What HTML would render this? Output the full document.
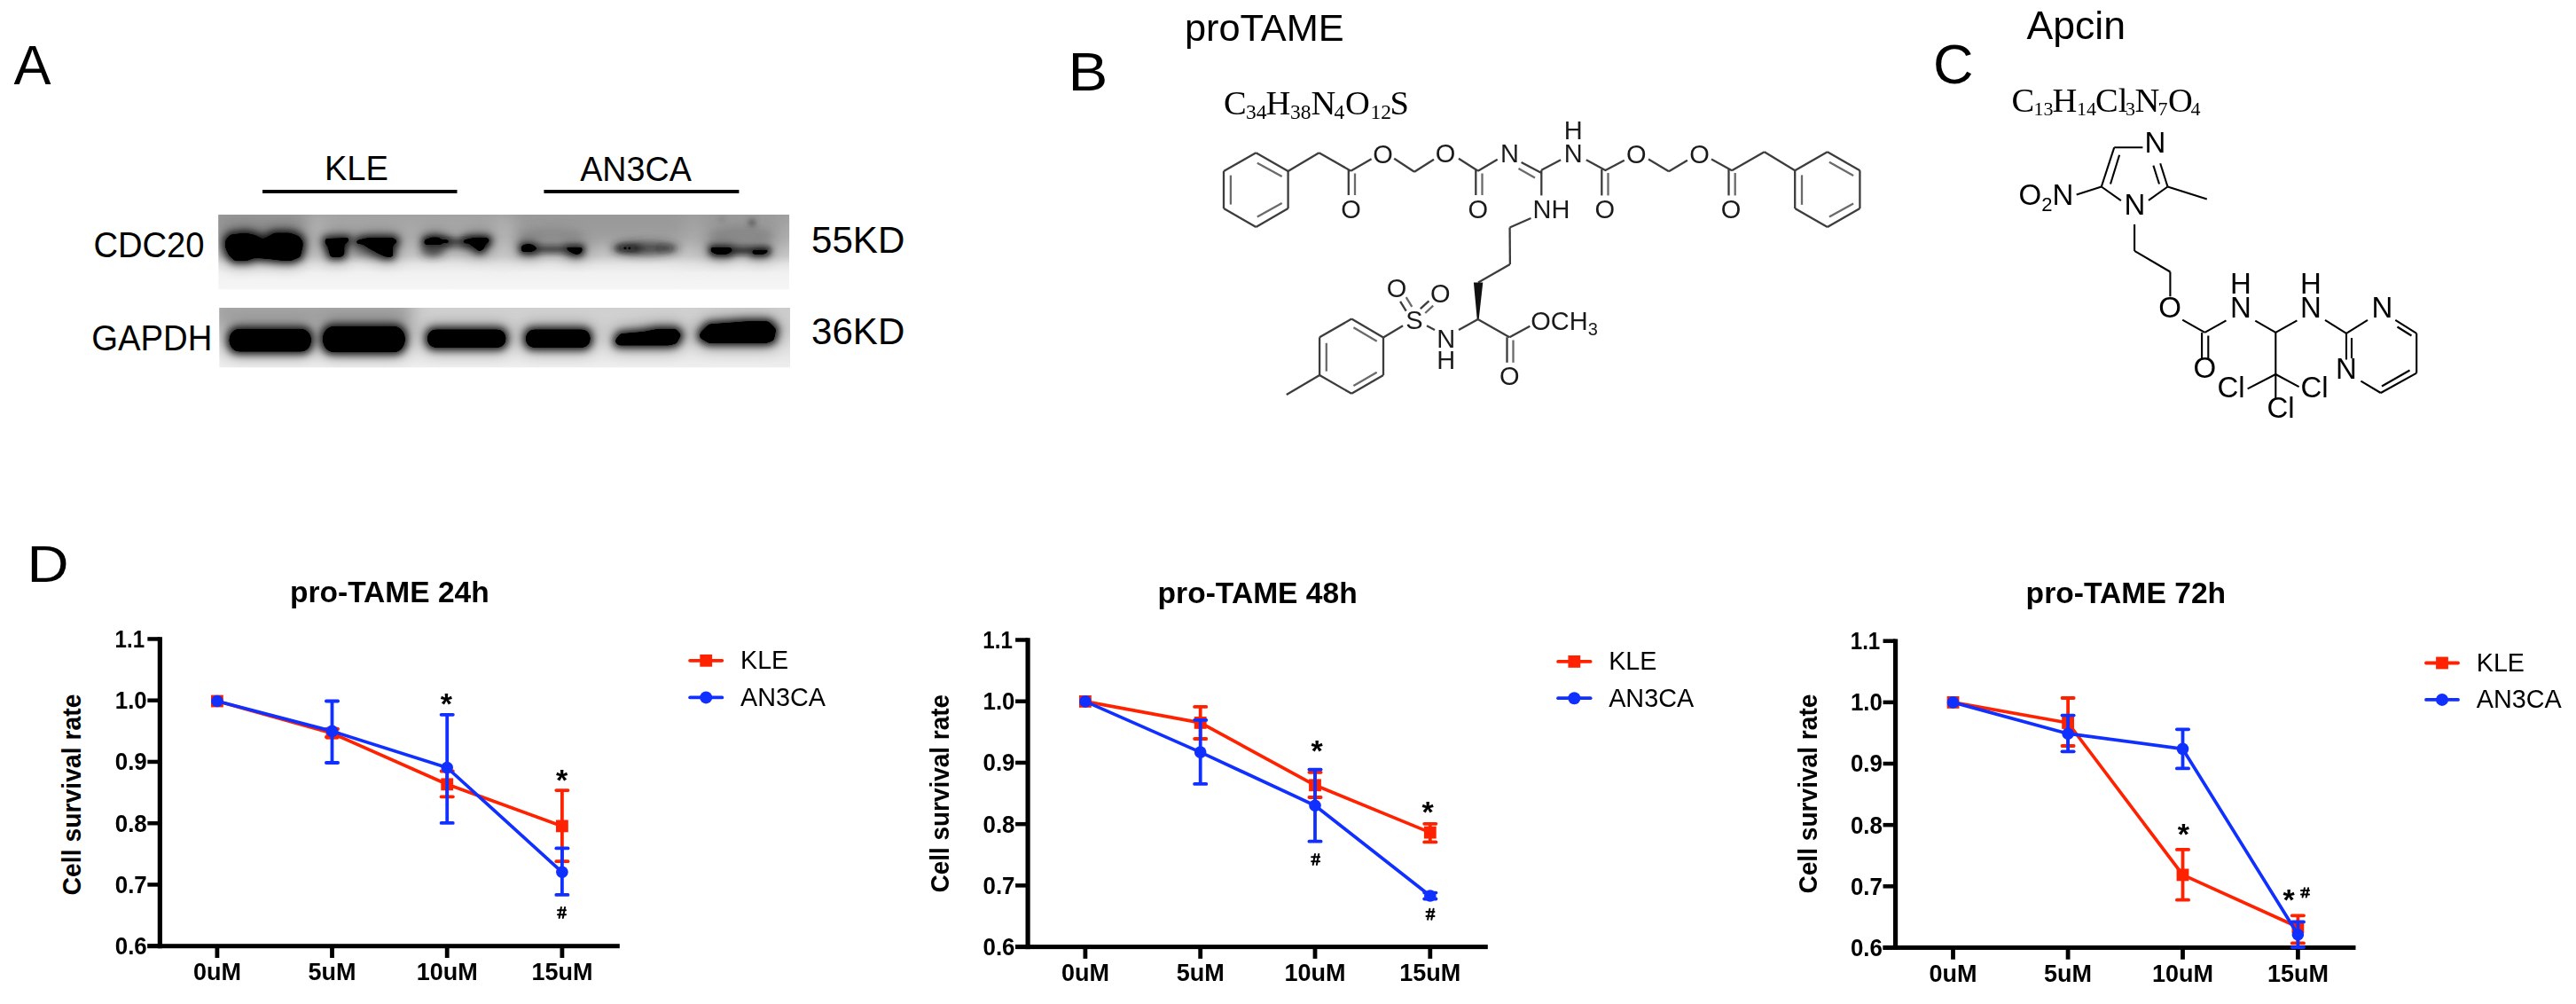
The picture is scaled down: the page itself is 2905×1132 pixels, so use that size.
<!DOCTYPE html>
<html><head><meta charset="utf-8"><title>Figure</title>
<style>html,body{margin:0;padding:0;background:#fff;width:2905px;height:1132px;overflow:hidden}svg{display:block}</style>
</head><body><svg width="2905" height="1132" viewBox="0 0 2905 1132"><text x="15.5" y="95" font-family='"Liberation Sans", sans-serif' font-size="63" font-weight="normal" text-anchor="start" fill="#000" >A</text>
<text x="1204.4" y="101.6" font-family='"Liberation Sans", sans-serif' font-size="61" font-weight="normal" text-anchor="start" fill="#000" textLength="44.8" lengthAdjust="spacingAndGlyphs" >B</text>
<text x="2180" y="94.1" font-family='"Liberation Sans", sans-serif' font-size="63" font-weight="normal" text-anchor="start" fill="#000" >C</text>
<text x="30.5" y="655.6" font-family='"Liberation Sans", sans-serif' font-size="58" font-weight="normal" text-anchor="start" fill="#000" textLength="47.1" lengthAdjust="spacingAndGlyphs" >D</text>
<text x="401.9" y="202.8" font-family='"Liberation Sans", sans-serif' font-size="39" font-weight="normal" text-anchor="middle" fill="#000" textLength="72" lengthAdjust="spacingAndGlyphs" >KLE</text>
<rect x="296" y="214" width="219.5" height="3.9" fill="#000"/>
<text x="717" y="203.8" font-family='"Liberation Sans", sans-serif' font-size="39" font-weight="normal" text-anchor="middle" fill="#000" textLength="125.5" lengthAdjust="spacingAndGlyphs" >AN3CA</text>
<rect x="613.4" y="214" width="220" height="3.9" fill="#000"/>
<text x="105.4" y="290.2" font-family='"Liberation Sans", sans-serif' font-size="40" font-weight="normal" text-anchor="start" fill="#000" textLength="125.2" lengthAdjust="spacingAndGlyphs" >CDC20</text>
<text x="103.2" y="395" font-family='"Liberation Sans", sans-serif' font-size="40" font-weight="normal" text-anchor="start" fill="#000" textLength="136.2" lengthAdjust="spacingAndGlyphs" >GAPDH</text>
<text x="915" y="285" font-family='"Liberation Sans", sans-serif' font-size="43" font-weight="normal" text-anchor="start" fill="#000" textLength="105.3" lengthAdjust="spacingAndGlyphs" >55KD</text>
<text x="915" y="387.6" font-family='"Liberation Sans", sans-serif' font-size="43" font-weight="normal" text-anchor="start" fill="#000" textLength="105.3" lengthAdjust="spacingAndGlyphs" >36KD</text>
<defs>
<clipPath id="cb1"><rect x="246.2" y="242.0" width="643.9" height="84.6"/></clipPath>
<clipPath id="cb2"><rect x="247.2" y="347.0" width="643.8" height="67.6"/></clipPath>
<filter id="hw" x="-30%" y="-200%" width="160%" height="500%"><feMorphology operator="dilate" radius="3" in="SourceAlpha"/><feGaussianBlur stdDeviation="9"/><feComponentTransfer><feFuncA type="linear" slope="0.5"/></feComponentTransfer></filter>
<filter id="hn" x="-30%" y="-200%" width="160%" height="500%"><feMorphology operator="dilate" radius="2" in="SourceAlpha"/><feGaussianBlur stdDeviation="4.5"/><feComponentTransfer><feFuncA type="linear" slope="0.9"/></feComponentTransfer></filter>
<filter id="goo" x="-20%" y="-100%" width="140%" height="300%"><feGaussianBlur in="SourceAlpha" stdDeviation="1.6"/><feComponentTransfer><feFuncA type="linear" slope="7" intercept="-3"/></feComponentTransfer><feGaussianBlur stdDeviation="0.5"/></filter>
<filter id="b10" x="-50%" y="-200%" width="200%" height="500%"><feGaussianBlur stdDeviation="10"/></filter>
<filter id="b5" x="-50%" y="-200%" width="200%" height="500%"><feGaussianBlur stdDeviation="5"/></filter>
<filter id="b3" x="-50%" y="-200%" width="200%" height="500%"><feGaussianBlur stdDeviation="3"/></filter>
<linearGradient id="gb1" x1="0" y1="0" x2="0" y2="1"><stop offset="0" stop-color="#a2a2a2"/><stop offset="0.3" stop-color="#b0b0b0"/><stop offset="0.55" stop-color="#c8c8c8"/><stop offset="0.66" stop-color="#e4e4e4"/><stop offset="0.78" stop-color="#f1f1f1"/><stop offset="1" stop-color="#f6f6f6"/></linearGradient>
<linearGradient id="gb2" x1="0" y1="0" x2="0" y2="1"><stop offset="0" stop-color="#c8c8c8"/><stop offset="0.35" stop-color="#d0d0d0"/><stop offset="0.7" stop-color="#e2e2e2"/><stop offset="1" stop-color="#efefef"/></linearGradient>
<g id="s1"><polygon points="254.0,271.0 260.0,264.4 276.9,262.4 287.8,264.9 296.8,269.4 309.7,262.4 326.7,262.4 336.6,265.9 341.6,271.9 341.6,277.8 338.6,289.8 327.6,294.3 316.7,293.8 304.7,292.3 287.8,290.8 277.8,294.3 264.9,294.3 257.9,287.8 254.0,278.8" fill="#000" /><polygon points="366.5,268.9 393.4,267.9 393.4,271.9 388.4,275.8 388.4,286.8 385.4,289.8 372.5,289.8 369.5,277.8 366.5,274.3" fill="#000" /><polygon points="401.9,270.9 415.3,267.9 443.2,267.9 448.7,271.9 443.2,276.8 443.2,289.8 435.2,289.8 426.3,285.8 415.3,279.8 409.3,275.8 401.9,274.8" fill="#000" /><polygon points="478.4,270.4 486.9,267.4 494.8,267.4 497.8,269.9 506.3,270.4 506.3,273.9 497.8,274.3 497.8,276.3 478.4,275.8" fill="#000" /><polygon points="522.7,270.4 533.7,267.9 549.6,267.9 552.6,271.4 547.6,275.8 545.6,280.8 540.6,283.8 535.7,279.8 527.7,274.3 522.7,274.8" fill="#000" /><polygon points="587.9,277.3 592.4,275.3 599.4,275.3 604.4,278.3 606.0,281.3 598.4,284.3 587.9,283.8" fill="#000" /><polygon points="637.3,278.8 656.7,278.8 656.7,283.3 653.2,286.8 648.2,286.8 641.2,283.3" fill="#000" /><polygon points="801.5,278.8 823.4,278.8 826.9,282.3 820.4,286.8 807.5,286.8 801.5,283.8" fill="#000" /><polygon points="848.3,281.8 868.2,281.8 862.2,286.8 848.3,286.8" fill="#000" /></g>
<g id="s2"><rect x="258.4" y="370.7" width="92.6" height="25.8" rx="11.6" ry="12.9" fill="#000"/><rect x="363.8" y="367.8" width="93.1" height="29.4" rx="13.2" ry="14.7" fill="#000"/><rect x="481.8" y="371.5" width="88.8" height="20.6" rx="9.3" ry="10.3" fill="#000"/><rect x="592.8" y="371.5" width="73.0" height="20.6" rx="9.3" ry="10.3" fill="#000"/><polygon points="694.1,382.9 699.5,376.2 725.4,373.9 742.3,370.8 762.0,370.8 768.2,377.5 762.9,387.3 754.8,389.6 697.7,389.6 694.1,386.4" fill="#000" /><polygon points="789.2,375.7 799.5,365.4 842.3,362.3 866.4,362.3 875.4,371.3 872.7,383.8 864.6,386.9 799.5,386.9 789.2,381.1" fill="#000" /></g>
</defs>
<g clip-path="url(#cb1)">
<rect x="246.2" y="242.0" width="643.9" height="84.6" fill="url(#gb1)"/>
<g filter="url(#b10)">
<rect x="236" y="236" width="110" height="30" fill="#8a8a8a" opacity="0.7"/>
<rect x="580" y="236" width="300" height="40" fill="#8e8e8e" opacity="0.55"/>
<rect x="354" y="245" width="8" height="50" fill="#d2d2d2" opacity="0.7"/>
<rect x="562" y="245" width="10" height="50" fill="#cccccc" opacity="0.6"/>
<rect x="777" y="245" width="10" height="50" fill="#c8c8c8" opacity="0.5"/>
</g>
<use href="#s1" filter="url(#hw)"/>
<use href="#s1" filter="url(#hn)"/>
<g filter="url(#b5)">
<ellipse cx="488" cy="282" rx="13" ry="7" fill="#303030" opacity="0.8"/>
<ellipse cx="515" cy="276" rx="30" ry="4" fill="#404040" opacity="0.6"/>
<ellipse cx="415" cy="283" rx="18" ry="6" fill="#404040" opacity="0.5"/>
<ellipse cx="728" cy="280" rx="38" ry="7.5" fill="#2a2a2a" opacity="0.75"/>
<ellipse cx="710" cy="280" rx="18" ry="6" fill="#1a1a1a" opacity="0.6"/>
<ellipse cx="622" cy="281" rx="22" ry="4" fill="#444" opacity="0.7"/>
<ellipse cx="836" cy="282" rx="14" ry="4" fill="#333" opacity="0.7"/>
<ellipse cx="622" cy="266" rx="36" ry="10" fill="#7a7a7a" opacity="0.45"/>
<ellipse cx="836" cy="266" rx="36" ry="12" fill="#707070" opacity="0.45"/>
</g>
<g filter="url(#b3)">
<ellipse cx="708" cy="280" rx="14" ry="3" fill="#151515" opacity="0.7"/>
<ellipse cx="750" cy="280" rx="10" ry="2.5" fill="#222" opacity="0.5"/>
<circle cx="848" cy="251" r="3.5" fill="#3a3a3a" opacity="0.9"/>
<circle cx="814.5" cy="247" r="3" fill="#6a6a6a" opacity="0.6"/>
</g>
<g filter="url(#b3)">
<rect x="480" y="270" width="70" height="5" fill="#1a1a1a" opacity="0.85"/>
<rect x="590" y="278.5" width="66" height="5" fill="#1a1a1a" opacity="0.8"/>
<rect x="803" y="279.5" width="64" height="6" fill="#151515" opacity="0.85"/>
</g>
<use href="#s1" filter="url(#goo)"/>
<circle cx="704.9" cy="279.8" r="1.4" fill="#000"/><circle cx="709.8" cy="279.8" r="1.4" fill="#000"/>
</g>
<g clip-path="url(#cb2)">
<rect x="247.2" y="347.0" width="643.8" height="67.6" fill="url(#gb2)"/>
<g filter="url(#b10)">
<rect x="236" y="338" width="230" height="30" fill="#8a8a8a" opacity="0.7"/>
<rect x="470" y="338" width="420" height="26" fill="#dadada" opacity="0.5"/>
</g>
<use href="#s2" filter="url(#hw)"/>
<use href="#s2" filter="url(#hn)"/>
<use href="#s2" filter="url(#goo)"/>
</g>
<g stroke-linecap="butt">
<line x1="1416.4" y1="172.2" x2="1452.6" y2="192.9" stroke="#3c3c3c" stroke-width="2.3"/>
<line x1="1452.6" y1="192.9" x2="1452.6" y2="235.1" stroke="#3c3c3c" stroke-width="2.3"/>
<line x1="1452.6" y1="235.1" x2="1416.4" y2="256.1" stroke="#3c3c3c" stroke-width="2.3"/>
<line x1="1416.4" y1="256.1" x2="1380.0" y2="235.1" stroke="#3c3c3c" stroke-width="2.3"/>
<line x1="1380.0" y1="235.1" x2="1380.0" y2="192.9" stroke="#3c3c3c" stroke-width="2.3"/>
<line x1="1380.0" y1="192.9" x2="1416.4" y2="172.2" stroke="#3c3c3c" stroke-width="2.3"/>
<line x1="1387.9" y1="197.7" x2="1387.9" y2="230.6" stroke="#6a6a6a" stroke-width="2.3"/>
<line x1="1417.8" y1="183.7" x2="1445.7" y2="199.0" stroke="#6a6a6a" stroke-width="2.3"/>
<line x1="1417.8" y1="244.6" x2="1445.7" y2="229.0" stroke="#6a6a6a" stroke-width="2.3"/>
<line x1="1452.6" y1="192.9" x2="1487.5" y2="172.2" stroke="#3c3c3c" stroke-width="2.3"/>
<line x1="1487.5" y1="172.2" x2="1523.3" y2="192.7" stroke="#3c3c3c" stroke-width="2.3"/>
<line x1="1520.8" y1="191.2" x2="1520.8" y2="220.0" stroke="#3c3c3c" stroke-width="2.3"/>
<line x1="1528.0" y1="195.5" x2="1528.0" y2="220.0" stroke="#6a6a6a" stroke-width="2.3"/>
<line x1="1523.3" y1="192.7" x2="1546.6" y2="179.3" stroke="#3c3c3c" stroke-width="2.3"/>
<line x1="1572.2" y1="178.8" x2="1595.0" y2="193.7" stroke="#3c3c3c" stroke-width="2.3"/>
<line x1="1595.0" y1="193.7" x2="1617.0" y2="179.8" stroke="#3c3c3c" stroke-width="2.3"/>
<line x1="1644.9" y1="178.8" x2="1666.8" y2="192.7" stroke="#3c3c3c" stroke-width="2.3"/>
<line x1="1664.3" y1="191.2" x2="1664.3" y2="220.0" stroke="#3c3c3c" stroke-width="2.3"/>
<line x1="1671.5" y1="195.5" x2="1671.5" y2="220.0" stroke="#6a6a6a" stroke-width="2.3"/>
<line x1="1666.8" y1="192.7" x2="1688.7" y2="179.8" stroke="#3c3c3c" stroke-width="2.3"/>
<line x1="1715.6" y1="183.0" x2="1738.3" y2="195.0" stroke="#3c3c3c" stroke-width="2.3"/>
<line x1="1712.5" y1="190.0" x2="1731.0" y2="200.5" stroke="#6a6a6a" stroke-width="2.3"/>
<line x1="1738.3" y1="191.7" x2="1760.1" y2="180.3" stroke="#3c3c3c" stroke-width="2.3"/>
<line x1="1738.3" y1="191.7" x2="1738.3" y2="220.4" stroke="#3c3c3c" stroke-width="2.3"/>
<line x1="1788.8" y1="180.3" x2="1810.9" y2="192.2" stroke="#3c3c3c" stroke-width="2.3"/>
<line x1="1806.3" y1="191.0" x2="1806.3" y2="220.4" stroke="#3c3c3c" stroke-width="2.3"/>
<line x1="1813.5" y1="195.0" x2="1813.5" y2="220.4" stroke="#6a6a6a" stroke-width="2.3"/>
<line x1="1810.0" y1="192.2" x2="1831.8" y2="180.7" stroke="#3c3c3c" stroke-width="2.3"/>
<line x1="1859.0" y1="179.6" x2="1882.0" y2="193.2" stroke="#3c3c3c" stroke-width="2.3"/>
<line x1="1882.0" y1="193.2" x2="1902.9" y2="180.7" stroke="#3c3c3c" stroke-width="2.3"/>
<line x1="1930.0" y1="179.6" x2="1953.1" y2="192.2" stroke="#3c3c3c" stroke-width="2.3"/>
<line x1="1949.5" y1="191.0" x2="1949.5" y2="220.4" stroke="#3c3c3c" stroke-width="2.3"/>
<line x1="1956.7" y1="195.0" x2="1956.7" y2="220.4" stroke="#6a6a6a" stroke-width="2.3"/>
<line x1="1953.1" y1="192.2" x2="1989.7" y2="171.2" stroke="#3c3c3c" stroke-width="2.3"/>
<line x1="1989.7" y1="171.2" x2="2024.2" y2="192.2" stroke="#3c3c3c" stroke-width="2.3"/>
<line x1="2060.8" y1="171.2" x2="2097.4" y2="192.2" stroke="#3c3c3c" stroke-width="2.3"/>
<line x1="2097.4" y1="192.2" x2="2097.4" y2="235.0" stroke="#3c3c3c" stroke-width="2.3"/>
<line x1="2097.4" y1="235.0" x2="2060.8" y2="256.0" stroke="#3c3c3c" stroke-width="2.3"/>
<line x1="2060.8" y1="256.0" x2="2024.2" y2="235.0" stroke="#3c3c3c" stroke-width="2.3"/>
<line x1="2024.2" y1="235.0" x2="2024.2" y2="192.2" stroke="#3c3c3c" stroke-width="2.3"/>
<line x1="2024.2" y1="192.2" x2="2060.8" y2="171.2" stroke="#3c3c3c" stroke-width="2.3"/>
<line x1="2032.0" y1="197.4" x2="2032.0" y2="230.9" stroke="#6a6a6a" stroke-width="2.3"/>
<line x1="2062.9" y1="182.7" x2="2090.1" y2="198.0" stroke="#6a6a6a" stroke-width="2.3"/>
<line x1="2062.9" y1="244.5" x2="2090.1" y2="229.5" stroke="#6a6a6a" stroke-width="2.3"/>
<line x1="1726.5" y1="246.0" x2="1702.6" y2="256.5" stroke="#3c3c3c" stroke-width="2.3"/>
<line x1="1702.6" y1="256.5" x2="1702.9" y2="298.1" stroke="#3c3c3c" stroke-width="2.3"/>
<line x1="1702.9" y1="298.1" x2="1667.0" y2="318.5" stroke="#3c3c3c" stroke-width="2.3"/>
<polygon points="1661.9,318.5 1672.3,318.5 1667.6,360.5 1665.8,360.5" fill="#111"/>
<line x1="1666.7" y1="360.0" x2="1645.0" y2="372.0" stroke="#3c3c3c" stroke-width="2.3"/>
<line x1="1666.7" y1="360.0" x2="1702.3" y2="380.2" stroke="#3c3c3c" stroke-width="2.3"/>
<line x1="1699.5" y1="380.2" x2="1699.5" y2="408.8" stroke="#3c3c3c" stroke-width="2.3"/>
<line x1="1706.5" y1="383.5" x2="1706.5" y2="408.8" stroke="#6a6a6a" stroke-width="2.3"/>
<line x1="1702.3" y1="380.2" x2="1725.3" y2="367.7" stroke="#3c3c3c" stroke-width="2.3"/>
<line x1="1609.0" y1="367.3" x2="1618.0" y2="372.1" stroke="#3c3c3c" stroke-width="2.3"/>
<line x1="1582.1" y1="367.3" x2="1560.0" y2="380.5" stroke="#3c3c3c" stroke-width="2.3"/>
<line x1="1579.1" y1="339.9" x2="1585.7" y2="350.6" stroke="#3c3c3c" stroke-width="2.3"/>
<line x1="1585.7" y1="335.1" x2="1592.3" y2="345.8" stroke="#6a6a6a" stroke-width="2.3"/>
<line x1="1601.8" y1="348.2" x2="1611.4" y2="339.3" stroke="#3c3c3c" stroke-width="2.3"/>
<line x1="1607.2" y1="353.0" x2="1616.2" y2="344.6" stroke="#6a6a6a" stroke-width="2.3"/>
<line x1="1524.2" y1="359.5" x2="1560.0" y2="380.5" stroke="#3c3c3c" stroke-width="2.3"/>
<line x1="1560.0" y1="380.5" x2="1560.0" y2="423.0" stroke="#3c3c3c" stroke-width="2.3"/>
<line x1="1560.0" y1="423.0" x2="1524.2" y2="443.8" stroke="#3c3c3c" stroke-width="2.3"/>
<line x1="1524.2" y1="443.8" x2="1488.1" y2="423.0" stroke="#3c3c3c" stroke-width="2.3"/>
<line x1="1488.1" y1="423.0" x2="1488.1" y2="380.3" stroke="#3c3c3c" stroke-width="2.3"/>
<line x1="1488.1" y1="380.3" x2="1524.2" y2="359.5" stroke="#3c3c3c" stroke-width="2.3"/>
<line x1="1495.8" y1="386.8" x2="1495.8" y2="418.6" stroke="#6a6a6a" stroke-width="2.3"/>
<line x1="1526.4" y1="369.3" x2="1552.7" y2="384.7" stroke="#6a6a6a" stroke-width="2.3"/>
<line x1="1526.4" y1="435.1" x2="1552.7" y2="419.7" stroke="#6a6a6a" stroke-width="2.3"/>
<line x1="1488.1" y1="423.0" x2="1450.8" y2="444.9" stroke="#3c3c3c" stroke-width="2.3"/>
</g>
<text x="1523.5" y="246.2" font-family='"Liberation Sans", sans-serif' font-size="29" text-anchor="middle" fill="#1a1a1a">O</text>
<text x="1559.6" y="183.5" font-family='"Liberation Sans", sans-serif' font-size="29" text-anchor="middle" fill="#1a1a1a">O</text>
<text x="1630.0" y="183.3" font-family='"Liberation Sans", sans-serif' font-size="29" text-anchor="middle" fill="#1a1a1a">O</text>
<text x="1666.8" y="246.2" font-family='"Liberation Sans", sans-serif' font-size="29" text-anchor="middle" fill="#1a1a1a">O</text>
<text x="1702.6" y="183.1" font-family='"Liberation Sans", sans-serif' font-size="29" text-anchor="middle" fill="#1a1a1a">N</text>
<text x="1774.2" y="157.3" font-family='"Liberation Sans", sans-serif' font-size="29" text-anchor="middle" fill="#1a1a1a">H</text>
<text x="1774.2" y="183.1" font-family='"Liberation Sans", sans-serif' font-size="29" text-anchor="middle" fill="#1a1a1a">N</text>
<text x="1809.8" y="246.0" font-family='"Liberation Sans", sans-serif' font-size="29" text-anchor="middle" fill="#1a1a1a">O</text>
<text x="1845.4" y="183.5" font-family='"Liberation Sans", sans-serif' font-size="29" text-anchor="middle" fill="#1a1a1a">O</text>
<text x="1916.5" y="183.5" font-family='"Liberation Sans", sans-serif' font-size="29" text-anchor="middle" fill="#1a1a1a">O</text>
<text x="1952.0" y="246.0" font-family='"Liberation Sans", sans-serif' font-size="29" text-anchor="middle" fill="#1a1a1a">O</text>
<text x="1575.0" y="335.3" font-family='"Liberation Sans", sans-serif' font-size="29" text-anchor="middle" fill="#1a1a1a">O</text>
<text x="1624.3" y="341.3" font-family='"Liberation Sans", sans-serif' font-size="29" text-anchor="middle" fill="#1a1a1a">O</text>
<text x="1595.0" y="371.2" font-family='"Liberation Sans", sans-serif' font-size="29" text-anchor="middle" fill="#1a1a1a">S</text>
<text x="1630.8" y="392.4" font-family='"Liberation Sans", sans-serif' font-size="29" text-anchor="middle" fill="#1a1a1a">N</text>
<text x="1630.8" y="416.3" font-family='"Liberation Sans", sans-serif' font-size="29" text-anchor="middle" fill="#1a1a1a">H</text>
<text x="1702.3" y="434.4" font-family='"Liberation Sans", sans-serif' font-size="29" text-anchor="middle" fill="#1a1a1a">O</text>
<text x="1728.6" y="245.6" font-family='"Liberation Sans", sans-serif' font-size="29" text-anchor="start" fill="#1a1a1a">NH</text>
<text x="1726.3" y="371.8" font-family='"Liberation Sans", sans-serif' font-size="29" fill="#1a1a1a">OCH<tspan font-size="20" dy="6.5">3</tspan></text>
<text font-family='"Liberation Serif", serif' font-size="38.5" fill="#000"><tspan x="1380" y="129.3">C</tspan><tspan x="1405" y="134.3" font-size="23.5">34</tspan><tspan x="1427.5" y="129.3">H</tspan><tspan x="1455" y="134.3" font-size="23.5">38</tspan><tspan x="1478.5" y="129.3">N</tspan><tspan x="1504.5" y="134.3" font-size="23.5">4</tspan><tspan x="1517" y="129.3">O</tspan><tspan x="1545.5" y="134.3" font-size="23.5">12</tspan><tspan x="1567.5" y="129.3">S</tspan></text>
<text x="1336" y="46.1" font-family='"Liberation Sans", sans-serif' font-size="43.3" fill="#000">proTAME</text>
<line x1="2384.2" y1="166.3" x2="2416.4" y2="166.3" stroke="#000" stroke-width="2.1"/>
<line x1="2384.2" y1="166.3" x2="2369.8" y2="210.5" stroke="#000" stroke-width="2.1"/>
<line x1="2390.1" y1="174.7" x2="2380.0" y2="207.5" stroke="#000" stroke-width="2.1"/>
<line x1="2436.2" y1="184.2" x2="2444.5" y2="210.5" stroke="#000" stroke-width="2.1"/>
<line x1="2428.4" y1="186.6" x2="2435.0" y2="207.5" stroke="#000" stroke-width="2.1"/>
<line x1="2369.8" y1="210.5" x2="2391.9" y2="226.1" stroke="#000" stroke-width="2.1"/>
<line x1="2423.0" y1="225.8" x2="2444.5" y2="210.5" stroke="#000" stroke-width="2.1"/>
<line x1="2444.5" y1="210.5" x2="2488.8" y2="224.6" stroke="#000" stroke-width="2.1"/>
<line x1="2369.8" y1="210.5" x2="2341.7" y2="219.5" stroke="#000" stroke-width="2.1"/>
<line x1="2407.1" y1="253.0" x2="2407.1" y2="282.9" stroke="#000" stroke-width="2.1"/>
<line x1="2407.1" y1="282.9" x2="2447.4" y2="306.5" stroke="#000" stroke-width="2.1"/>
<line x1="2447.4" y1="306.5" x2="2447.4" y2="334.3" stroke="#000" stroke-width="2.1"/>
<line x1="2461.2" y1="360.6" x2="2486.4" y2="374.9" stroke="#000" stroke-width="2.1"/>
<line x1="2483.1" y1="374.9" x2="2483.1" y2="404.4" stroke="#000" stroke-width="2.1"/>
<line x1="2490.3" y1="378.5" x2="2490.3" y2="404.4" stroke="#000" stroke-width="2.1"/>
<line x1="2486.4" y1="374.9" x2="2510.5" y2="361.3" stroke="#000" stroke-width="2.1"/>
<line x1="2543.3" y1="361.7" x2="2566.3" y2="374.9" stroke="#000" stroke-width="2.1"/>
<line x1="2566.3" y1="374.9" x2="2590.4" y2="361.3" stroke="#000" stroke-width="2.1"/>
<line x1="2566.3" y1="374.9" x2="2566.3" y2="422.0" stroke="#000" stroke-width="2.1"/>
<line x1="2566.3" y1="422.0" x2="2534.6" y2="438.4" stroke="#000" stroke-width="2.1"/>
<line x1="2566.3" y1="422.0" x2="2592.6" y2="436.2" stroke="#000" stroke-width="2.1"/>
<line x1="2566.3" y1="422.0" x2="2566.3" y2="449.3" stroke="#000" stroke-width="2.1"/>
<line x1="2622.0" y1="360.8" x2="2646.0" y2="375.8" stroke="#000" stroke-width="2.1"/>
<line x1="2646.0" y1="375.8" x2="2670.0" y2="360.8" stroke="#000" stroke-width="2.1"/>
<line x1="2701.3" y1="360.8" x2="2725.2" y2="375.8" stroke="#000" stroke-width="2.1"/>
<line x1="2703.5" y1="368.5" x2="2719.5" y2="378.5" stroke="#000" stroke-width="2.1"/>
<line x1="2725.2" y1="375.8" x2="2725.2" y2="420.6" stroke="#000" stroke-width="2.1"/>
<line x1="2725.2" y1="420.6" x2="2684.8" y2="443.0" stroke="#000" stroke-width="2.1"/>
<line x1="2717.5" y1="417.5" x2="2686.0" y2="435.5" stroke="#000" stroke-width="2.1"/>
<line x1="2684.8" y1="443.0" x2="2662.4" y2="429.6" stroke="#000" stroke-width="2.1"/>
<line x1="2646.0" y1="375.8" x2="2646.0" y2="405.5" stroke="#000" stroke-width="2.1"/>
<line x1="2652.0" y1="381.0" x2="2652.0" y2="404.0" stroke="#000" stroke-width="2.1"/>
<text x="2430.4" y="171.9" font-family='"Liberation Sans", sans-serif' font-size="33" text-anchor="middle" fill="#000">N</text>
<text x="2407.5" y="242.2" font-family='"Liberation Sans", sans-serif' font-size="33" text-anchor="middle" fill="#000">N</text>
<text x="2447.2" y="357.8" font-family='"Liberation Sans", sans-serif' font-size="33" text-anchor="middle" fill="#000">O</text>
<text x="2486.4" y="426.0" font-family='"Liberation Sans", sans-serif' font-size="33" text-anchor="middle" fill="#000">O</text>
<text x="2526.8" y="331.4" font-family='"Liberation Sans", sans-serif' font-size="33" text-anchor="middle" fill="#000">H</text>
<text x="2526.8" y="357.6" font-family='"Liberation Sans", sans-serif' font-size="33" text-anchor="middle" fill="#000">N</text>
<text x="2605.8" y="331.4" font-family='"Liberation Sans", sans-serif' font-size="33" text-anchor="middle" fill="#000">H</text>
<text x="2605.8" y="357.6" font-family='"Liberation Sans", sans-serif' font-size="33" text-anchor="middle" fill="#000">N</text>
<text x="2686.3" y="357.6" font-family='"Liberation Sans", sans-serif' font-size="33" text-anchor="middle" fill="#000">N</text>
<text x="2646.0" y="427.0" font-family='"Liberation Sans", sans-serif' font-size="33" text-anchor="middle" fill="#000">N</text>
<text x="2500.5" y="448.2" font-family='"Liberation Sans", sans-serif' font-size="33" text-anchor="start" fill="#000">Cl</text>
<text x="2594.5" y="448.2" font-family='"Liberation Sans", sans-serif' font-size="33" text-anchor="start" fill="#000">Cl</text>
<text x="2556.5" y="470.5" font-family='"Liberation Sans", sans-serif' font-size="33" text-anchor="start" fill="#000">Cl</text>
<text x="2276.5" y="230.9" font-family='"Liberation Sans", sans-serif' font-size="33" fill="#000">O<tspan font-size="22" dy="7.5">2</tspan><tspan dy="-7.5">N</tspan></text>
<text font-family='"Liberation Serif", serif' font-size="38.5" fill="#000"><tspan x="2268.5" y="125.7">C</tspan><tspan x="2293.5" y="129.7" font-size="22">13</tspan><tspan x="2314.5" y="125.7">H</tspan><tspan x="2342" y="129.7" font-size="22">14</tspan><tspan x="2363" y="125.7">Cl</tspan><tspan x="2397" y="129.7" font-size="22">3</tspan><tspan x="2407.5" y="125.7">N</tspan><tspan x="2433.5" y="129.7" font-size="22">7</tspan><tspan x="2445" y="125.7">O</tspan><tspan x="2470.5" y="129.7" font-size="22">4</tspan></text>
<text x="2285.5" y="44.0" font-family='"Liberation Sans", sans-serif' font-size="44.6" fill="#000">Apcin</text>
<text x="439.34" y="678.90" font-family='"Liberation Sans", sans-serif' font-size="34" font-weight="bold" text-anchor="middle" fill="#000" textLength="224.7" lengthAdjust="spacingAndGlyphs" >pro-TAME 24h</text>
<text transform="translate(91.10,896.00) rotate(-90)" x="0" y="0" font-family='"Liberation Sans", sans-serif' font-size="29.5" font-weight="bold" text-anchor="middle" textLength="227" lengthAdjust="spacingAndGlyphs">Cell survival rate</text>
<rect x="177.75" y="718.20" width="5.2" height="351.05" fill="#000"/>
<rect x="166.35" y="1064.20" width="532.45" height="5" fill="#000"/>
<rect x="166.35" y="718.20" width="14.00" height="4.5" fill="#000"/>
<text x="163.05" y="729.85" font-family='"Liberation Sans", sans-serif' font-size="27" font-weight="bold" text-anchor="end" fill="#000" textLength="33.5" lengthAdjust="spacingAndGlyphs" >1.1</text>
<rect x="166.35" y="787.45" width="14.00" height="4.5" fill="#000"/>
<text x="165.75" y="799.10" font-family='"Liberation Sans", sans-serif' font-size="27" font-weight="bold" text-anchor="end" fill="#000" textLength="36" lengthAdjust="spacingAndGlyphs" >1.0</text>
<rect x="166.35" y="856.70" width="14.00" height="4.5" fill="#000"/>
<text x="165.75" y="868.35" font-family='"Liberation Sans", sans-serif' font-size="27" font-weight="bold" text-anchor="end" fill="#000" textLength="36" lengthAdjust="spacingAndGlyphs" >0.9</text>
<rect x="166.35" y="925.95" width="14.00" height="4.5" fill="#000"/>
<text x="165.75" y="937.60" font-family='"Liberation Sans", sans-serif' font-size="27" font-weight="bold" text-anchor="end" fill="#000" textLength="36" lengthAdjust="spacingAndGlyphs" >0.8</text>
<rect x="166.35" y="995.20" width="14.00" height="4.5" fill="#000"/>
<text x="165.75" y="1006.85" font-family='"Liberation Sans", sans-serif' font-size="27" font-weight="bold" text-anchor="end" fill="#000" textLength="36" lengthAdjust="spacingAndGlyphs" >0.7</text>
<rect x="166.35" y="1064.45" width="14.00" height="4.5" fill="#000"/>
<text x="165.75" y="1076.10" font-family='"Liberation Sans", sans-serif' font-size="27" font-weight="bold" text-anchor="end" fill="#000" textLength="36" lengthAdjust="spacingAndGlyphs" >0.6</text>
<rect x="242.50" y="1066.70" width="4.8" height="13.3" fill="#000"/>
<text x="244.90" y="1105.20" font-family='"Liberation Sans", sans-serif' font-size="27" font-weight="bold" text-anchor="middle" fill="#000" >0uM</text>
<rect x="372.10" y="1066.70" width="4.8" height="13.3" fill="#000"/>
<text x="374.50" y="1105.20" font-family='"Liberation Sans", sans-serif' font-size="27" font-weight="bold" text-anchor="middle" fill="#000" >5uM</text>
<rect x="501.80" y="1066.70" width="4.8" height="13.3" fill="#000"/>
<text x="504.20" y="1105.20" font-family='"Liberation Sans", sans-serif' font-size="27" font-weight="bold" text-anchor="middle" fill="#000" >10uM</text>
<rect x="631.50" y="1066.70" width="4.8" height="13.3" fill="#000"/>
<text x="633.90" y="1105.20" font-family='"Liberation Sans", sans-serif' font-size="27" font-weight="bold" text-anchor="middle" fill="#000" >15uM</text>
<line x1="374.50" y1="822.00" x2="374.50" y2="831.00" stroke="#ff2200" stroke-width="3.8"/>
<line x1="367.90" y1="822.00" x2="381.10" y2="822.00" stroke="#ff2200" stroke-width="3.8" stroke-linecap="round"/>
<line x1="367.90" y1="831.00" x2="381.10" y2="831.00" stroke="#ff2200" stroke-width="3.8" stroke-linecap="round"/>
<line x1="504.20" y1="869.50" x2="504.20" y2="898.30" stroke="#ff2200" stroke-width="3.8"/>
<line x1="497.60" y1="869.50" x2="510.80" y2="869.50" stroke="#ff2200" stroke-width="3.8" stroke-linecap="round"/>
<line x1="497.60" y1="898.30" x2="510.80" y2="898.30" stroke="#ff2200" stroke-width="3.8" stroke-linecap="round"/>
<line x1="633.90" y1="891.10" x2="633.90" y2="971.20" stroke="#ff2200" stroke-width="3.8"/>
<line x1="627.30" y1="891.10" x2="640.50" y2="891.10" stroke="#ff2200" stroke-width="3.8" stroke-linecap="round"/>
<line x1="627.30" y1="971.20" x2="640.50" y2="971.20" stroke="#ff2200" stroke-width="3.8" stroke-linecap="round"/>
<polyline points="244.90,790.50 374.50,826.70 504.20,884.30 633.90,931.40" fill="none" stroke="#ff2200" stroke-width="3.7" stroke-linejoin="round"/>
<rect x="238.00" y="783.60" width="13.8" height="13.8" fill="#ff2200"/>
<rect x="367.60" y="819.80" width="13.8" height="13.8" fill="#ff2200"/>
<rect x="497.30" y="877.40" width="13.8" height="13.8" fill="#ff2200"/>
<rect x="627.00" y="924.50" width="13.8" height="13.8" fill="#ff2200"/>
<line x1="374.50" y1="790.50" x2="374.50" y2="860.00" stroke="#1030ff" stroke-width="3.8"/>
<line x1="367.90" y1="790.50" x2="381.10" y2="790.50" stroke="#1030ff" stroke-width="3.8" stroke-linecap="round"/>
<line x1="367.90" y1="860.00" x2="381.10" y2="860.00" stroke="#1030ff" stroke-width="3.8" stroke-linecap="round"/>
<line x1="504.20" y1="805.80" x2="504.20" y2="927.90" stroke="#1030ff" stroke-width="3.8"/>
<line x1="497.60" y1="805.80" x2="510.80" y2="805.80" stroke="#1030ff" stroke-width="3.8" stroke-linecap="round"/>
<line x1="497.60" y1="927.90" x2="510.80" y2="927.90" stroke="#1030ff" stroke-width="3.8" stroke-linecap="round"/>
<line x1="633.90" y1="956.40" x2="633.90" y2="1008.90" stroke="#1030ff" stroke-width="3.8"/>
<line x1="627.30" y1="956.40" x2="640.50" y2="956.40" stroke="#1030ff" stroke-width="3.8" stroke-linecap="round"/>
<line x1="627.30" y1="1008.90" x2="640.50" y2="1008.90" stroke="#1030ff" stroke-width="3.8" stroke-linecap="round"/>
<polyline points="244.90,790.50 374.50,824.40 504.20,865.50 633.90,983.30" fill="none" stroke="#1030ff" stroke-width="3.7" stroke-linejoin="round"/>
<circle cx="244.90" cy="790.50" r="6.8" fill="#1030ff"/>
<circle cx="374.50" cy="824.40" r="6.8" fill="#1030ff"/>
<circle cx="504.20" cy="865.50" r="6.8" fill="#1030ff"/>
<circle cx="633.90" cy="983.30" r="6.8" fill="#1030ff"/>
<text x="503.40" y="804.80" font-family='"Liberation Sans", sans-serif' font-size="34" font-weight="bold" text-anchor="middle" fill="#000" >*</text>
<text x="633.60" y="891.20" font-family='"Liberation Sans", sans-serif' font-size="34" font-weight="bold" text-anchor="middle" fill="#000" >*</text>
<g stroke="#000" stroke-width="2.0" stroke-linecap="round" fill="none"><line x1="629.00" y1="1026.17" x2="638.00" y2="1026.17"/><line x1="629.00" y1="1031.17" x2="638.00" y2="1031.17"/><line x1="630.60" y1="1035.00" x2="632.90" y2="1022.90"/><line x1="634.80" y1="1035.00" x2="637.10" y2="1022.90"/></g>
<line x1="778.10" y1="744.80" x2="814.30" y2="744.80" stroke="#ff2200" stroke-width="3.8" stroke-linecap="round"/>
<rect x="789.30" y="737.90" width="13.8" height="13.8" fill="#ff2200"/>
<text x="835.10" y="754.10" font-family='"Liberation Sans", sans-serif' font-size="30" font-weight="normal" text-anchor="start" fill="#000" textLength="54.1" lengthAdjust="spacingAndGlyphs" >KLE</text>
<line x1="778.10" y1="786.40" x2="814.30" y2="786.40" stroke="#1030ff" stroke-width="3.8" stroke-linecap="round"/>
<circle cx="796.20" cy="786.40" r="7" fill="#1030ff"/>
<text x="835.10" y="795.80" font-family='"Liberation Sans", sans-serif' font-size="30" font-weight="normal" text-anchor="start" fill="#000" textLength="95.9" lengthAdjust="spacingAndGlyphs" >AN3CA</text>
<text x="1418.15" y="679.90" font-family='"Liberation Sans", sans-serif' font-size="34" font-weight="bold" text-anchor="middle" fill="#000" textLength="225.1" lengthAdjust="spacingAndGlyphs" >pro-TAME 48h</text>
<text transform="translate(1070.20,894.70) rotate(-90)" x="0" y="0" font-family='"Liberation Sans", sans-serif' font-size="29.5" font-weight="bold" text-anchor="middle" textLength="223.5" lengthAdjust="spacingAndGlyphs">Cell survival rate</text>
<rect x="1156.50" y="719.25" width="5.2" height="350.90" fill="#000"/>
<rect x="1145.10" y="1065.10" width="532.70" height="5" fill="#000"/>
<rect x="1145.10" y="719.25" width="14.00" height="4.5" fill="#000"/>
<text x="1141.80" y="730.90" font-family='"Liberation Sans", sans-serif' font-size="27" font-weight="bold" text-anchor="end" fill="#000" textLength="33.5" lengthAdjust="spacingAndGlyphs" >1.1</text>
<rect x="1145.10" y="788.47" width="14.00" height="4.5" fill="#000"/>
<text x="1144.50" y="800.12" font-family='"Liberation Sans", sans-serif' font-size="27" font-weight="bold" text-anchor="end" fill="#000" textLength="36" lengthAdjust="spacingAndGlyphs" >1.0</text>
<rect x="1145.10" y="857.69" width="14.00" height="4.5" fill="#000"/>
<text x="1144.50" y="869.34" font-family='"Liberation Sans", sans-serif' font-size="27" font-weight="bold" text-anchor="end" fill="#000" textLength="36" lengthAdjust="spacingAndGlyphs" >0.9</text>
<rect x="1145.10" y="926.91" width="14.00" height="4.5" fill="#000"/>
<text x="1144.50" y="938.56" font-family='"Liberation Sans", sans-serif' font-size="27" font-weight="bold" text-anchor="end" fill="#000" textLength="36" lengthAdjust="spacingAndGlyphs" >0.8</text>
<rect x="1145.10" y="996.13" width="14.00" height="4.5" fill="#000"/>
<text x="1144.50" y="1007.78" font-family='"Liberation Sans", sans-serif' font-size="27" font-weight="bold" text-anchor="end" fill="#000" textLength="36" lengthAdjust="spacingAndGlyphs" >0.7</text>
<rect x="1145.10" y="1065.35" width="14.00" height="4.5" fill="#000"/>
<text x="1144.50" y="1077.00" font-family='"Liberation Sans", sans-serif' font-size="27" font-weight="bold" text-anchor="end" fill="#000" textLength="36" lengthAdjust="spacingAndGlyphs" >0.6</text>
<rect x="1221.50" y="1067.60" width="4.8" height="13.3" fill="#000"/>
<text x="1223.90" y="1106.10" font-family='"Liberation Sans", sans-serif' font-size="27" font-weight="bold" text-anchor="middle" fill="#000" >0uM</text>
<rect x="1351.30" y="1067.60" width="4.8" height="13.3" fill="#000"/>
<text x="1353.70" y="1106.10" font-family='"Liberation Sans", sans-serif' font-size="27" font-weight="bold" text-anchor="middle" fill="#000" >5uM</text>
<rect x="1480.60" y="1067.60" width="4.8" height="13.3" fill="#000"/>
<text x="1483.00" y="1106.10" font-family='"Liberation Sans", sans-serif' font-size="27" font-weight="bold" text-anchor="middle" fill="#000" >10uM</text>
<rect x="1610.40" y="1067.60" width="4.8" height="13.3" fill="#000"/>
<text x="1612.80" y="1106.10" font-family='"Liberation Sans", sans-serif' font-size="27" font-weight="bold" text-anchor="middle" fill="#000" >15uM</text>
<line x1="1353.70" y1="796.90" x2="1353.70" y2="833.00" stroke="#ff2200" stroke-width="3.8"/>
<line x1="1347.10" y1="796.90" x2="1360.30" y2="796.90" stroke="#ff2200" stroke-width="3.8" stroke-linecap="round"/>
<line x1="1347.10" y1="833.00" x2="1360.30" y2="833.00" stroke="#ff2200" stroke-width="3.8" stroke-linecap="round"/>
<line x1="1483.00" y1="870.80" x2="1483.00" y2="899.00" stroke="#ff2200" stroke-width="3.8"/>
<line x1="1476.40" y1="870.80" x2="1489.60" y2="870.80" stroke="#ff2200" stroke-width="3.8" stroke-linecap="round"/>
<line x1="1476.40" y1="899.00" x2="1489.60" y2="899.00" stroke="#ff2200" stroke-width="3.8" stroke-linecap="round"/>
<line x1="1612.80" y1="928.80" x2="1612.80" y2="949.40" stroke="#ff2200" stroke-width="3.8"/>
<line x1="1606.20" y1="928.80" x2="1619.40" y2="928.80" stroke="#ff2200" stroke-width="3.8" stroke-linecap="round"/>
<line x1="1606.20" y1="949.40" x2="1619.40" y2="949.40" stroke="#ff2200" stroke-width="3.8" stroke-linecap="round"/>
<polyline points="1223.90,790.90 1353.70,814.90 1483.00,885.30 1612.80,938.60" fill="none" stroke="#ff2200" stroke-width="3.7" stroke-linejoin="round"/>
<rect x="1217.00" y="784.00" width="13.8" height="13.8" fill="#ff2200"/>
<rect x="1346.80" y="808.00" width="13.8" height="13.8" fill="#ff2200"/>
<rect x="1476.10" y="878.40" width="13.8" height="13.8" fill="#ff2200"/>
<rect x="1605.90" y="931.70" width="13.8" height="13.8" fill="#ff2200"/>
<line x1="1353.70" y1="811.80" x2="1353.70" y2="883.90" stroke="#1030ff" stroke-width="3.8"/>
<line x1="1347.10" y1="811.80" x2="1360.30" y2="811.80" stroke="#1030ff" stroke-width="3.8" stroke-linecap="round"/>
<line x1="1347.10" y1="883.90" x2="1360.30" y2="883.90" stroke="#1030ff" stroke-width="3.8" stroke-linecap="round"/>
<line x1="1483.00" y1="867.60" x2="1483.00" y2="948.70" stroke="#1030ff" stroke-width="3.8"/>
<line x1="1476.40" y1="867.60" x2="1489.60" y2="867.60" stroke="#1030ff" stroke-width="3.8" stroke-linecap="round"/>
<line x1="1476.40" y1="948.70" x2="1489.60" y2="948.70" stroke="#1030ff" stroke-width="3.8" stroke-linecap="round"/>
<line x1="1612.80" y1="1006.60" x2="1612.80" y2="1013.50" stroke="#1030ff" stroke-width="3.8"/>
<line x1="1606.20" y1="1006.60" x2="1619.40" y2="1006.60" stroke="#1030ff" stroke-width="3.8" stroke-linecap="round"/>
<line x1="1606.20" y1="1013.50" x2="1619.40" y2="1013.50" stroke="#1030ff" stroke-width="3.8" stroke-linecap="round"/>
<polyline points="1223.90,790.90 1353.70,848.10 1483.00,908.20 1612.80,1010.00" fill="none" stroke="#1030ff" stroke-width="3.7" stroke-linejoin="round"/>
<circle cx="1223.90" cy="790.90" r="6.8" fill="#1030ff"/>
<circle cx="1353.70" cy="848.10" r="6.8" fill="#1030ff"/>
<circle cx="1483.00" cy="908.20" r="6.8" fill="#1030ff"/>
<circle cx="1612.80" cy="1010.00" r="6.8" fill="#1030ff"/>
<text x="1485.00" y="857.90" font-family='"Liberation Sans", sans-serif' font-size="34" font-weight="bold" text-anchor="middle" fill="#000" >*</text>
<text x="1610.00" y="927.20" font-family='"Liberation Sans", sans-serif' font-size="34" font-weight="bold" text-anchor="middle" fill="#000" >*</text>
<g stroke="#000" stroke-width="2.0" stroke-linecap="round" fill="none"><line x1="1479.10" y1="966.17" x2="1488.10" y2="966.17"/><line x1="1479.10" y1="971.17" x2="1488.10" y2="971.17"/><line x1="1480.70" y1="975.00" x2="1483.00" y2="962.90"/><line x1="1484.90" y1="975.00" x2="1487.20" y2="962.90"/></g>
<g stroke="#000" stroke-width="2.0" stroke-linecap="round" fill="none"><line x1="1608.50" y1="1027.97" x2="1617.50" y2="1027.97"/><line x1="1608.50" y1="1032.97" x2="1617.50" y2="1032.97"/><line x1="1610.10" y1="1036.80" x2="1612.40" y2="1024.70"/><line x1="1614.30" y1="1036.80" x2="1616.60" y2="1024.70"/></g>
<line x1="1757.10" y1="745.90" x2="1793.60" y2="745.90" stroke="#ff2200" stroke-width="3.8" stroke-linecap="round"/>
<rect x="1768.45" y="739.00" width="13.8" height="13.8" fill="#ff2200"/>
<text x="1814.20" y="754.90" font-family='"Liberation Sans", sans-serif' font-size="30" font-weight="normal" text-anchor="start" fill="#000" textLength="54.1" lengthAdjust="spacingAndGlyphs" >KLE</text>
<line x1="1757.10" y1="787.20" x2="1793.60" y2="787.20" stroke="#1030ff" stroke-width="3.8" stroke-linecap="round"/>
<circle cx="1775.35" cy="787.20" r="7" fill="#1030ff"/>
<text x="1814.20" y="797.10" font-family='"Liberation Sans", sans-serif' font-size="30" font-weight="normal" text-anchor="start" fill="#000" textLength="95.9" lengthAdjust="spacingAndGlyphs" >AN3CA</text>
<text x="2397.40" y="680.20" font-family='"Liberation Sans", sans-serif' font-size="34" font-weight="bold" text-anchor="middle" fill="#000" textLength="225.6" lengthAdjust="spacingAndGlyphs" >pro-TAME 72h</text>
<text transform="translate(2048.80,895.10) rotate(-90)" x="0" y="0" font-family='"Liberation Sans", sans-serif' font-size="29.5" font-weight="bold" text-anchor="middle" textLength="225" lengthAdjust="spacingAndGlyphs">Cell survival rate</text>
<rect x="2134.95" y="720.45" width="5.2" height="350.55" fill="#000"/>
<rect x="2123.55" y="1065.95" width="532.95" height="5" fill="#000"/>
<rect x="2123.55" y="720.45" width="14.00" height="4.5" fill="#000"/>
<text x="2120.25" y="732.10" font-family='"Liberation Sans", sans-serif' font-size="27" font-weight="bold" text-anchor="end" fill="#000" textLength="33.5" lengthAdjust="spacingAndGlyphs" >1.1</text>
<rect x="2123.55" y="789.60" width="14.00" height="4.5" fill="#000"/>
<text x="2122.95" y="801.25" font-family='"Liberation Sans", sans-serif' font-size="27" font-weight="bold" text-anchor="end" fill="#000" textLength="36" lengthAdjust="spacingAndGlyphs" >1.0</text>
<rect x="2123.55" y="858.75" width="14.00" height="4.5" fill="#000"/>
<text x="2122.95" y="870.40" font-family='"Liberation Sans", sans-serif' font-size="27" font-weight="bold" text-anchor="end" fill="#000" textLength="36" lengthAdjust="spacingAndGlyphs" >0.9</text>
<rect x="2123.55" y="927.90" width="14.00" height="4.5" fill="#000"/>
<text x="2122.95" y="939.55" font-family='"Liberation Sans", sans-serif' font-size="27" font-weight="bold" text-anchor="end" fill="#000" textLength="36" lengthAdjust="spacingAndGlyphs" >0.8</text>
<rect x="2123.55" y="997.05" width="14.00" height="4.5" fill="#000"/>
<text x="2122.95" y="1008.70" font-family='"Liberation Sans", sans-serif' font-size="27" font-weight="bold" text-anchor="end" fill="#000" textLength="36" lengthAdjust="spacingAndGlyphs" >0.7</text>
<rect x="2123.55" y="1066.20" width="14.00" height="4.5" fill="#000"/>
<text x="2122.95" y="1077.85" font-family='"Liberation Sans", sans-serif' font-size="27" font-weight="bold" text-anchor="end" fill="#000" textLength="36" lengthAdjust="spacingAndGlyphs" >0.6</text>
<rect x="2200.10" y="1068.45" width="4.8" height="13.3" fill="#000"/>
<text x="2202.50" y="1106.95" font-family='"Liberation Sans", sans-serif' font-size="27" font-weight="bold" text-anchor="middle" fill="#000" >0uM</text>
<rect x="2329.70" y="1068.45" width="4.8" height="13.3" fill="#000"/>
<text x="2332.10" y="1106.95" font-family='"Liberation Sans", sans-serif' font-size="27" font-weight="bold" text-anchor="middle" fill="#000" >5uM</text>
<rect x="2459.10" y="1068.45" width="4.8" height="13.3" fill="#000"/>
<text x="2461.50" y="1106.95" font-family='"Liberation Sans", sans-serif' font-size="27" font-weight="bold" text-anchor="middle" fill="#000" >10uM</text>
<rect x="2589.00" y="1068.45" width="4.8" height="13.3" fill="#000"/>
<text x="2591.40" y="1106.95" font-family='"Liberation Sans", sans-serif' font-size="27" font-weight="bold" text-anchor="middle" fill="#000" >15uM</text>
<line x1="2332.10" y1="787.00" x2="2332.10" y2="841.00" stroke="#ff2200" stroke-width="3.8"/>
<line x1="2325.50" y1="787.00" x2="2338.70" y2="787.00" stroke="#ff2200" stroke-width="3.8" stroke-linecap="round"/>
<line x1="2325.50" y1="841.00" x2="2338.70" y2="841.00" stroke="#ff2200" stroke-width="3.8" stroke-linecap="round"/>
<line x1="2461.50" y1="957.90" x2="2461.50" y2="1014.70" stroke="#ff2200" stroke-width="3.8"/>
<line x1="2454.90" y1="957.90" x2="2468.10" y2="957.90" stroke="#ff2200" stroke-width="3.8" stroke-linecap="round"/>
<line x1="2454.90" y1="1014.70" x2="2468.10" y2="1014.70" stroke="#ff2200" stroke-width="3.8" stroke-linecap="round"/>
<line x1="2591.40" y1="1032.30" x2="2591.40" y2="1063.40" stroke="#ff2200" stroke-width="3.8"/>
<line x1="2584.80" y1="1032.30" x2="2598.00" y2="1032.30" stroke="#ff2200" stroke-width="3.8" stroke-linecap="round"/>
<line x1="2584.80" y1="1063.40" x2="2598.00" y2="1063.40" stroke="#ff2200" stroke-width="3.8" stroke-linecap="round"/>
<polyline points="2202.50,791.90 2332.10,815.00 2461.50,986.40 2591.40,1045.20" fill="none" stroke="#ff2200" stroke-width="3.7" stroke-linejoin="round"/>
<rect x="2195.60" y="785.00" width="13.8" height="13.8" fill="#ff2200"/>
<rect x="2325.20" y="808.10" width="13.8" height="13.8" fill="#ff2200"/>
<rect x="2454.60" y="979.50" width="13.8" height="13.8" fill="#ff2200"/>
<rect x="2584.50" y="1038.30" width="13.8" height="13.8" fill="#ff2200"/>
<line x1="2332.10" y1="806.60" x2="2332.10" y2="847.30" stroke="#1030ff" stroke-width="3.8"/>
<line x1="2325.50" y1="806.60" x2="2338.70" y2="806.60" stroke="#1030ff" stroke-width="3.8" stroke-linecap="round"/>
<line x1="2325.50" y1="847.30" x2="2338.70" y2="847.30" stroke="#1030ff" stroke-width="3.8" stroke-linecap="round"/>
<line x1="2461.50" y1="822.30" x2="2461.50" y2="866.40" stroke="#1030ff" stroke-width="3.8"/>
<line x1="2454.90" y1="822.30" x2="2468.10" y2="822.30" stroke="#1030ff" stroke-width="3.8" stroke-linecap="round"/>
<line x1="2454.90" y1="866.40" x2="2468.10" y2="866.40" stroke="#1030ff" stroke-width="3.8" stroke-linecap="round"/>
<line x1="2591.40" y1="1039.40" x2="2591.40" y2="1068.10" stroke="#1030ff" stroke-width="3.8"/>
<line x1="2584.80" y1="1039.40" x2="2598.00" y2="1039.40" stroke="#1030ff" stroke-width="3.8" stroke-linecap="round"/>
<line x1="2584.80" y1="1068.10" x2="2598.00" y2="1068.10" stroke="#1030ff" stroke-width="3.8" stroke-linecap="round"/>
<polyline points="2202.50,791.90 2332.10,827.20 2461.50,844.40 2591.40,1053.80" fill="none" stroke="#1030ff" stroke-width="3.7" stroke-linejoin="round"/>
<circle cx="2202.50" cy="791.90" r="6.8" fill="#1030ff"/>
<circle cx="2332.10" cy="827.20" r="6.8" fill="#1030ff"/>
<circle cx="2461.50" cy="844.40" r="6.8" fill="#1030ff"/>
<circle cx="2591.40" cy="1053.80" r="6.8" fill="#1030ff"/>
<text x="2462.40" y="951.70" font-family='"Liberation Sans", sans-serif' font-size="34" font-weight="bold" text-anchor="middle" fill="#000" >*</text>
<text x="2581.20" y="1025.50" font-family='"Liberation Sans", sans-serif' font-size="34" font-weight="bold" text-anchor="middle" fill="#000" >*</text>
<g stroke="#000" stroke-width="2.0" stroke-linecap="round" fill="none"><line x1="2595.00" y1="1004.03" x2="2604.00" y2="1004.03"/><line x1="2595.00" y1="1008.39" x2="2604.00" y2="1008.39"/><line x1="2596.60" y1="1011.60" x2="2598.90" y2="1001.30"/><line x1="2600.80" y1="1011.60" x2="2603.10" y2="1001.30"/></g>
<line x1="2736.00" y1="747.50" x2="2772.00" y2="747.50" stroke="#ff2200" stroke-width="3.8" stroke-linecap="round"/>
<rect x="2747.10" y="740.60" width="13.8" height="13.8" fill="#ff2200"/>
<text x="2792.80" y="756.90" font-family='"Liberation Sans", sans-serif' font-size="30" font-weight="normal" text-anchor="start" fill="#000" textLength="54.1" lengthAdjust="spacingAndGlyphs" >KLE</text>
<line x1="2736.00" y1="788.90" x2="2772.00" y2="788.90" stroke="#1030ff" stroke-width="3.8" stroke-linecap="round"/>
<circle cx="2754.00" cy="788.90" r="7" fill="#1030ff"/>
<text x="2792.80" y="797.70" font-family='"Liberation Sans", sans-serif' font-size="30" font-weight="normal" text-anchor="start" fill="#000" textLength="95.9" lengthAdjust="spacingAndGlyphs" >AN3CA</text></svg></body></html>
